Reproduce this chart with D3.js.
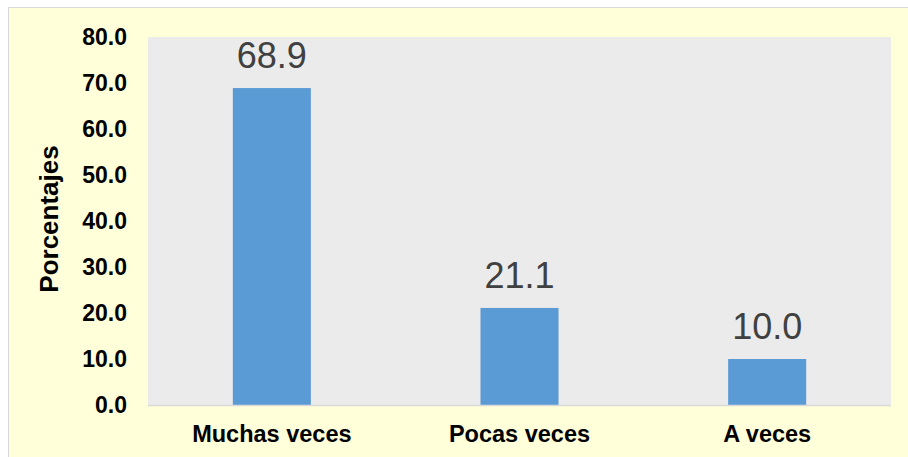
<!DOCTYPE html>
<html>
<head>
<meta charset="utf-8">
<script src="https://cdn.jsdelivr.net/npm/d3@7"></script>
<style>
  body { margin: 0; background: #fff; }
  text { font-family: Arial, "Liberation Sans", sans-serif; }
</style>
</head>
<body>
<div id="chart"></div>
<script>
// chart data
const categories = ['Muchas veces', 'Pocas veces', 'A veces'];
const values = [68.9, 21.1, 10.0];
const yTicks = [0, 10, 20, 30, 40, 50, 60, 70, 80];

const width = 908;
const height = 457;
const plot = { left: 148, right: 891, top: 37, bottom: 405 };

const svg = d3.select('#chart')
  .append('svg')
  .attr('width', width)
  .attr('height', height);

// outer chart area (light yellow with gray border)
svg.append('rect')
  .attr('x', 8.5)
  .attr('y', 7.5)
  .attr('width', width)
  .attr('height', height)
  .attr('fill', '#ffffd9')
  .attr('stroke', '#d9d9d9')
  .attr('stroke-width', 1);

// plot background
svg.append('rect')
  .attr('x', plot.left)
  .attr('y', plot.top)
  .attr('width', plot.right - plot.left)
  .attr('height', plot.bottom - plot.top)
  .attr('fill', '#ebebeb');

const x = d3.scaleBand()
  .domain(categories)
  .range([plot.left, plot.right])
  .paddingInner(0.685)
  .paddingOuter(0.3425);

const y = d3.scaleLinear()
  .domain([0, 80])
  .range([plot.bottom, plot.top]);

// bars
svg.append('g')
  .selectAll('rect')
  .data(values)
  .join('rect')
  .attr('x', (d, i) => x(categories[i]))
  .attr('y', d => y(d))
  .attr('width', x.bandwidth())
  .attr('height', d => y(0) - y(d))
  .attr('fill', '#5b9bd5');

// baseline
svg.append('line')
  .attr('x1', plot.left)
  .attr('x2', plot.right)
  .attr('y1', y(0) + 0.5)
  .attr('y2', y(0) + 0.5)
  .attr('stroke', '#d9d9d9')
  .attr('stroke-width', 1.5);

// value labels
svg.append('g')
  .selectAll('text')
  .data(values)
  .join('text')
  .attr('x', (d, i) => x(categories[i]) + x.bandwidth() / 2)
  .attr('y', d => y(d) - 20)
  .attr('text-anchor', 'middle')
  .attr('font-size', 36)
  .attr('fill', '#404040')
  .text(d => d.toFixed(1));

// y axis
const yAxis = svg.append('g')
  .attr('transform', `translate(${plot.left},0)`)
  .call(d3.axisLeft(y).tickValues(yTicks).tickSize(0).tickPadding(21).tickFormat(d3.format('.1f')));
yAxis.select('.domain').remove();
yAxis.selectAll('text')
  .attr('font-size', 23)
  .attr('font-weight', 'bold')
  .attr('fill', '#000')
  .attr('font-family', 'Arial, "Liberation Sans", sans-serif');

// x axis
const xAxis = svg.append('g')
  .attr('transform', `translate(0,${plot.bottom})`)
  .call(d3.axisBottom(x).tickSize(0).tickPadding(20));
xAxis.select('.domain').remove();
xAxis.selectAll('text')
  .attr('font-size', 23.5)
  .attr('font-weight', 'bold')
  .attr('fill', '#000')
  .attr('font-family', 'Arial, "Liberation Sans", sans-serif');

// y axis title
svg.append('text')
  .attr('transform', `translate(58,${(plot.top + plot.bottom) / 2 - 2}) rotate(-90)`)
  .attr('text-anchor', 'middle')
  .attr('font-size', 26)
  .attr('font-weight', 'bold')
  .attr('fill', '#000')
  .text('Porcentajes');
</script>
</body>
</html>
